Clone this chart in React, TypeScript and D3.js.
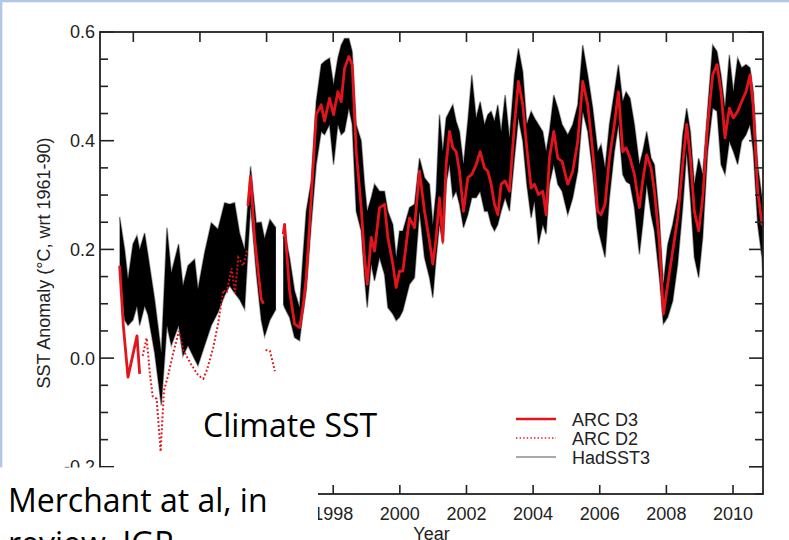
import React from "react";
import * as d3 from "d3";

// ---------- data ----------
const xTickYears = [1992, 1994, 1996, 1998, 2000, 2002, 2004, 2006, 2008, 2010];
const xLabelYears = [1998, 2000, 2002, 2004, 2006, 2008, 2010]; // earlier labels sit under the slide text box
const yMajorTicks = [-0.2, 0.0, 0.2, 0.4, 0.6];
const yTickLabels = ["-0.2", "0.0", "0.2", "0.4", "0.6"];

// HadSST3 ensemble envelope (upper / lower member values); null = gap
const hadYears = [
  1991.59, 1991.74, 1991.84, 1991.99, 1992.11, 1992.19, 1992.34, 1992.44, 1992.64, 1992.84,
  1993.01, 1993.14, 1993.36, 1993.49, 1993.64, 1993.84, 1993.94, 1994.14, 1994.34, 1994.54,
  1994.74, 1994.89, 1995.04, 1995.19, 1995.34, 1995.52, 1995.69, 1995.84, 1995.94, 1996.1,
  1996.28, 1996.4, 1996.5, 1996.54, 1996.69, 1996.84, 1996.99, 1997.09, 1997.19, 1997.34,
  1997.49, 1997.64, 1997.74, 1997.89, 1998.01, 1998.14, 1998.24, 1998.34, 1998.47, 1998.57,
  1998.69, 1998.84, 1998.94, 1999.02, 1999.14, 1999.24, 1999.39, 1999.54, 1999.64, 1999.79,
  1999.89, 1999.99, 2000.09, 2000.29, 2000.44, 2000.59, 2000.74, 2000.89, 2000.99, 2001.09,
  2001.19, 2001.29, 2001.39, 2001.49, 2001.59, 2001.69, 2001.79, 2001.91, 2002.04, 2002.16,
  2002.29, 2002.41, 2002.54, 2002.64, 2002.74, 2002.84, 2002.94, 2003.04, 2003.16, 2003.29,
  2003.44, 2003.56, 2003.69, 2003.81, 2003.94, 2004.04, 2004.16, 2004.29, 2004.39, 2004.49,
  2004.62, 2004.74, 2004.87, 2005.04, 2005.19, 2005.34, 2005.49, 2005.64, 2005.79, 2005.94,
  2006.04, 2006.16, 2006.29, 2006.44, 2006.56, 2006.69, 2006.79, 2006.91, 2007.04, 2007.19,
  2007.29, 2007.41, 2007.54, 2007.64, 2007.79, 2007.91, 2008.04, 2008.19, 2008.34, 2008.49,
  2008.61, 2008.72, 2008.84, 2008.97, 2009.09, 2009.24, 2009.39, 2009.52, 2009.64, 2009.76,
  2009.89, 2010.01, 2010.14, 2010.26, 2010.39, 2010.51, 2010.61, 2010.74, 2010.87, 2010.9,
];
const hadHi = [
  0.26, 0.2, 0.145, 0.21, 0.225, 0.2, 0.23, 0.19, 0.108, 0.01,
  0.24, 0.157, 0.21, 0.133, 0.17, 0.182, 0.127, 0.194, 0.249, 0.237,
  0.286, 0.283, 0.286, 0.23, 0.2, 0.353, 0.249, 0.25, 0.22, 0.255,
  0.24, null, 0.22, 0.234, 0.185, 0.124, 0.093, 0.185, 0.27, 0.326,
  0.472, 0.54, 0.546, 0.552, 0.503, 0.552, 0.576, 0.588, 0.588, 0.564,
  0.43, 0.4, 0.32, 0.27, 0.295, 0.32, 0.307, 0.307, 0.27, 0.246,
  0.185, 0.234, 0.234, 0.277, 0.283, 0.368, 0.332, 0.32, 0.246, 0.307,
  0.448, 0.38, 0.442, 0.454, 0.466, 0.436, 0.417, 0.356, 0.436, 0.521,
  0.442, 0.472, 0.43, 0.448, 0.454, 0.436, 0.466, 0.417, 0.484, 0.405,
  0.521, 0.57, 0.527, 0.43, 0.454, 0.442, 0.43, 0.417, 0.38, 0.417,
  0.484, 0.46, 0.43, 0.411, 0.43, 0.466, 0.576, 0.521, 0.46, 0.38,
  0.393, 0.35, 0.43, 0.49, 0.54, 0.472, 0.49, 0.478, 0.43, 0.356,
  0.38, 0.417, 0.368, 0.356, 0.258, 0.136, 0.209, 0.246, 0.295, 0.411,
  0.46, 0.417, 0.32, 0.368, 0.338, 0.46, 0.576, 0.564, 0.521, 0.46,
  0.558, 0.49, 0.552, 0.534, 0.54, 0.534, 0.49, 0.356, 0.295, 0.28,
];
const hadLo = [
  0.157, 0.07, 0.06, 0.07, 0.096, 0.06, 0.096, 0.08, 0.01, -0.087,
  0.06, 0.023, 0.06, 0.004, 0.023, -0.002, -0.014, 0.023, 0.06, 0.084,
  0.115, 0.133, 0.12, 0.108, 0.09, 0.28, 0.157, 0.07, 0.04, 0.07,
  0.09, null, 0.1, 0.093, 0.075, 0.038, 0.032, 0.081, 0.124, 0.246,
  0.356, 0.417, 0.411, 0.43, 0.356, 0.43, 0.411, 0.417, 0.46, 0.43,
  0.27, 0.234, 0.148, 0.093, 0.173, 0.142, 0.185, 0.154, 0.093, 0.081,
  0.069, 0.075, 0.087, 0.136, 0.148, 0.27, 0.185, 0.148, 0.111, 0.185,
  0.246, 0.209, 0.32, 0.356, 0.295, 0.307, 0.283, 0.24, 0.264, 0.295,
  0.295, 0.307, 0.27, 0.27, 0.246, 0.234, 0.246, 0.27, 0.295, 0.27,
  0.368, 0.442, 0.399, 0.32, 0.258, 0.289, 0.209, 0.246, 0.228, 0.32,
  0.356, 0.32, 0.307, 0.264, 0.295, 0.344, 0.454, 0.417, 0.34, 0.24,
  0.215, 0.185, 0.295, 0.38, 0.43, 0.338, 0.325, 0.32, 0.277, 0.191,
  0.246, 0.32, 0.264, 0.234, 0.148, 0.063, 0.075, 0.105, 0.173, 0.277,
  0.38, 0.295, 0.185, 0.148, 0.222, 0.38, 0.46, 0.454, 0.356, 0.338,
  0.399, 0.38, 0.356, 0.399, 0.411, 0.43, 0.38, 0.246, 0.185, 0.15,
];

// ARC D3 (solid red); null = gap
const arcD3Years = [
  1991.59, 1991.7, 1991.84, 1992.11, 1992.19, 1993.0,
  1995.44, 1995.52, 1995.64, 1995.84, 1995.91, 1996.2,
  1996.5, 1996.54, 1996.69, 1996.84, 1996.99, 1997.09, 1997.19, 1997.34, 1997.49, 1997.64,
  1997.74, 1997.89, 1998.01, 1998.14, 1998.24, 1998.34, 1998.47, 1998.57, 1998.69, 1998.84,
  1998.94, 1999.02, 1999.14, 1999.24, 1999.39, 1999.54, 1999.64, 1999.79, 1999.89, 1999.99,
  2000.09, 2000.29, 2000.44, 2000.59, 2000.74, 2000.89, 2000.99, 2001.09, 2001.19, 2001.29,
  2001.39, 2001.49, 2001.59, 2001.69, 2001.79, 2001.91, 2002.04, 2002.16, 2002.29, 2002.41,
  2002.54, 2002.64, 2002.74, 2002.84, 2002.94, 2003.04, 2003.16, 2003.29, 2003.44, 2003.56,
  2003.69, 2003.81, 2003.94, 2004.04, 2004.16, 2004.29, 2004.39, 2004.49, 2004.62, 2004.74,
  2004.87, 2005.04, 2005.19, 2005.34, 2005.49, 2005.64, 2005.79, 2005.94, 2006.04, 2006.16,
  2006.29, 2006.44, 2006.56, 2006.69, 2006.79, 2006.91, 2007.04, 2007.19, 2007.29, 2007.41,
  2007.54, 2007.64, 2007.79, 2007.91, 2008.04, 2008.19, 2008.34, 2008.49, 2008.61, 2008.72,
  2008.84, 2008.97, 2009.09, 2009.24, 2009.39, 2009.52, 2009.64, 2009.76, 2009.89, 2010.01,
  2010.14, 2010.26, 2010.39, 2010.51, 2010.61, 2010.74, 2010.87, 2010.9,
];
const arcD3Values = [
  0.17, 0.06, -0.035, 0.041, -0.029, null,
  0.28, 0.335, 0.22, 0.108, 0.1, null,
  0.228, 0.246, 0.124, 0.063, 0.056, 0.093, 0.148, 0.295, 0.448, 0.466,
  0.436, 0.478, 0.448, 0.49, 0.472, 0.533, 0.555, 0.54, 0.381, 0.277,
  0.185, 0.136, 0.222, 0.197, 0.277, 0.283, 0.222, 0.173, 0.13, 0.16,
  0.16, 0.258, 0.24, 0.344, 0.27, 0.215, 0.173, 0.222, 0.295, 0.215,
  0.356, 0.417, 0.387, 0.38, 0.344, 0.27, 0.332, 0.338, 0.356, 0.38,
  0.35, 0.344, 0.32, 0.283, 0.264, 0.32, 0.326, 0.307, 0.43, 0.509,
  0.466, 0.387, 0.313, 0.32, 0.301, 0.307, 0.264, 0.368, 0.417, 0.368,
  0.362, 0.32, 0.344, 0.399, 0.509, 0.466, 0.38, 0.27, 0.264, 0.283,
  0.368, 0.43, 0.49, 0.38, 0.387, 0.368, 0.338, 0.277, 0.326, 0.374,
  0.35, 0.307, 0.215, 0.081, 0.136, 0.197, 0.258, 0.356, 0.43, 0.368,
  0.27, 0.234, 0.295, 0.43, 0.521, 0.54, 0.49, 0.405, 0.46, 0.442,
  0.454, 0.472, 0.49, 0.521, 0.46, 0.307, 0.246, 0.25,
];

// ARC D2 (dotted red); null = gap
const arcD2Years = [
  1992.28, 1992.4, 1992.5, 1992.58, 1992.7, 1992.82, 1992.92, 1993.05, 1993.2, 1993.37,
  1993.5, 1993.72, 1993.95, 1994.1, 1994.22, 1994.4, 1994.55, 1994.7, 1994.8, 1994.95,
  1995.05, 1995.15, 1995.3, 1995.42, 1995.7,
  1995.97, 1996.1, 1996.25,
];
const arcD2Values = [
  0.004, 0.037, -0.03, -0.07, -0.075, -0.172, -0.06, -0.03, 0.01, 0.05,
  0.015, -0.01, -0.032, -0.038, -0.02, 0.02, 0.065, 0.125, 0.12, 0.165,
  0.12, 0.185, 0.17, 0.2, null,
  0.015, 0.013, -0.024,
];

const legendLabels = ["ARC D3", "ARC D2", "HadSST3"];

// ---------- layout ----------
const W = 789;
const H = 540;
const PL = 100, PR = 763, PT = 32, PB = 494;
const RED = "#e3141c";
const AXIS_FONT = "'Liberation Sans', Arial, Helvetica, sans-serif";
const SLIDE_FONT = "'Open Sans', 'Noto Sans', sans-serif";

export default function App() {
  const x = d3.scaleLinear().domain([1991, 2010.9]).range([PL, PR]);
  const y = d3.scaleLinear().domain([-0.25, 0.6]).range([PB, PT]);

  const band = hadYears.map((t, i) => ({ t, hi: hadHi[i], lo: hadLo[i] }));
  const area = d3
    .area<any>()
    .defined((d) => d.hi != null && d.lo != null)
    .x((d) => x(d.t))
    .y0((d) => y(d.lo))
    .y1((d) => y(d.hi));
  const hiLine = d3
    .line<any>()
    .defined((d) => d.hi != null)
    .x((d) => x(d.t))
    .y((d) => y(d.hi));
  const loLine = d3
    .line<any>()
    .defined((d) => d.lo != null)
    .x((d) => x(d.t))
    .y((d) => y(d.lo));

  const serLine = d3
    .line<any>()
    .defined((d) => d.v != null)
    .x((d) => x(d.t))
    .y((d) => y(d.v));
  const d3pts = arcD3Years.map((t, i) => ({ t, v: arcD3Values[i] }));
  const d2pts = arcD2Years.map((t, i) => ({ t, v: arcD2Values[i] }));

  const minorTicks = d3.range(-0.25, 0.6001, 0.05).map((v) => Math.round(v * 100) / 100);

  const legendY = [419, 438, 457];

  return (
    <svg
      width={W}
      height={H}
      style={{ position: "absolute", left: 0, top: 0, background: "#fff" }}
    >
      <rect x={0} y={0} width={W} height={H} fill="#fff" />
      {/* slide frame */}
      <rect x={0} y={0} width={W} height={2.3} fill="#b4c7e9" />
      <rect x={0} y={0} width={2.3} height={468} fill="#b4c7e9" />

      {/* HadSST3 ensemble */}
      <path d={hiLine(band) || ""} fill="none" stroke="#777" strokeWidth={1.6} opacity={0.7} />
      <path d={loLine(band) || ""} fill="none" stroke="#777" strokeWidth={1.6} opacity={0.7} />
      <path d={area(band) || ""} fill="#000" />

      {/* ARC D2 */}
      <path
        d={serLine(d2pts) || ""}
        fill="none"
        stroke={RED}
        strokeWidth={2}
        strokeDasharray="1.8,2.2"
      />
      {/* ARC D3 */}
      <path
        d={serLine(d3pts) || ""}
        fill="none"
        stroke={RED}
        strokeWidth={2.8}
        strokeLinejoin="round"
      />

      {/* frame */}
      <rect x={PL} y={PT} width={PR - PL} height={PB - PT} fill="none" stroke="#222" strokeWidth={1.8} />

      {/* y ticks */}
      {minorTicks.map((v) => {
        const major = yMajorTicks.some((m) => Math.abs(m - v) < 1e-6);
        const len = major ? 14 : 8;
        return (
          <g key={"yt" + v}>
            <line x1={PL} x2={PL + len} y1={y(v)} y2={y(v)} stroke="#222" strokeWidth={1.6} />
            <line x1={PR} x2={PR - len} y1={y(v)} y2={y(v)} stroke="#222" strokeWidth={1.6} />
          </g>
        );
      })}
      {yMajorTicks.map((v, i) => (
        <text
          key={"yl" + v}
          x={95}
          y={y(v)}
          dy="0.36em"
          textAnchor="end"
          fontFamily={AXIS_FONT}
          fontSize={18}
          fill="#222"
        >
          {yTickLabels[i]}
        </text>
      ))}

      {/* x ticks */}
      {xTickYears.map((t) => (
        <g key={"xt" + t}>
          <line x1={x(t)} x2={x(t)} y1={PT} y2={PT + 10} stroke="#222" strokeWidth={1.6} />
          <line x1={x(t)} x2={x(t)} y1={PB} y2={PB - 9} stroke="#222" strokeWidth={1.6} />
        </g>
      ))}
      {xLabelYears.map((t) => (
        <text
          key={"xl" + t}
          x={x(t)}
          y={520}
          textAnchor="middle"
          fontFamily={AXIS_FONT}
          fontSize={18}
          fill="#222"
        >
          {t}
        </text>
      ))}

      {/* axis titles */}
      <text
        transform={`translate(50,263) rotate(-90)`}
        textAnchor="middle"
        fontFamily={AXIS_FONT}
        fontSize={18}
        fill="#222"
      >
        SST Anomaly (°C, wrt 1961-90)
      </text>
      <text x={(PL + PR) / 2} y={540} textAnchor="middle" fontFamily={AXIS_FONT} fontSize={18} fill="#222">
        Year
      </text>

      {/* legend */}
      <line x1={516} x2={556} y1={legendY[0]} y2={legendY[0]} stroke={RED} strokeWidth={2.6} />
      <line
        x1={516}
        x2={556}
        y1={legendY[1]}
        y2={legendY[1]}
        stroke={RED}
        strokeWidth={1.6}
        strokeDasharray="1.4,2.2"
      />
      <line x1={516} x2={556} y1={legendY[2]} y2={legendY[2]} stroke="#555" strokeWidth={1} />
      {legendLabels.map((l, i) => (
        <text
          key={l}
          x={572}
          y={legendY[i] + 6.5}
          fontFamily={AXIS_FONT}
          fontSize={18}
          fill="#222"
        >
          {l}
        </text>
      ))}

      {/* slide annotations */}
      <text x={203} y={437} fontFamily={SLIDE_FONT} fontSize={32} fill="#000">
        Climate SST
      </text>
      <rect x={0} y={467.5} width={318} height={H - 467.5} fill="#fff" />
      <text x={8} y={512} fontFamily={SLIDE_FONT} fontSize={32} fill="#000">
        Merchant at al, in
      </text>
      <text x={8} y={555} fontFamily={SLIDE_FONT} fontSize={32} fill="#000">
        review, JGR
      </text>
    </svg>
  );
}
